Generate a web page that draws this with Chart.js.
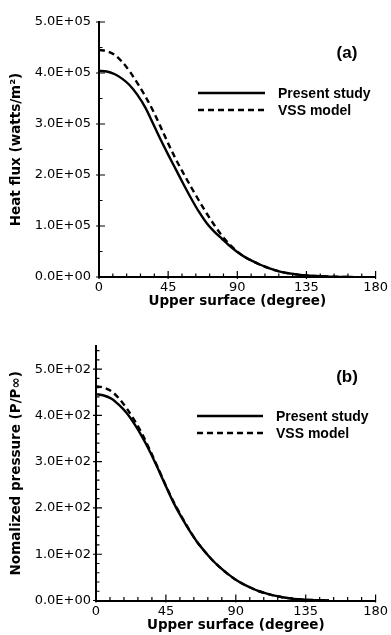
<!DOCTYPE html>
<html><head><meta charset="utf-8">
<script src="https://cdn.jsdelivr.net/npm/chart.js@4"></script>
<style>
html,body{margin:0;padding:0;background:#fff;}
#wa{position:absolute;left:0;top:0;width:391px;height:315px;}
#wb{position:absolute;left:0;top:315px;width:391px;height:320px;}
</style></head><body>
<div id="wa"><canvas id="ca"></canvas></div>
<div id="wb"><canvas id="cb"></canvas></div>
<script>
// ---- data ----
const angles = [0,5,10,15,20,25,30,35,40,45,50,55,60,65,70,75,80,85,90,95,100,105,110,115,120,125,130,135,140,150,165];
const heatPresent = [4.04e5,4.03e5,3.98e5,3.89e5,3.76e5,3.57e5,3.33e5,3.02e5,2.70e5,2.40e5,2.11e5,1.82e5,1.54e5,1.28e5,1.06e5,0.89e5,0.75e5,0.61e5,0.49e5,0.39e5,0.31e5,0.24e5,0.18e5,0.13e5,0.09e5,0.065e5,0.045e5,0.03e5,0.02e5,0.008e5,0];
const heatVSS = [4.45e5,4.43e5,4.36e5,4.22e5,4.03e5,3.80e5,3.55e5,3.27e5,2.95e5,2.62e5,2.31e5,2.03e5,1.76e5,1.50e5,1.25e5,1.02e5,0.81e5,0.64e5,0.50e5,0.39e5,0.31e5,0.24e5,0.18e5,0.13e5,0.09e5,0.065e5,0.045e5,0.03e5,0.02e5,0.008e5,0];
const anglesB = [0,5,10,15,20,25,30,35,40,45,50,55,60,65,70,75,80,85,90,95,100,105,110,115,120,125,130,135,140,150];
const pressPresent = [446,443,436,422,404,380,352,320,284,247,211,180,152,127,106,87,71,57,45,35,27,20,15,10.5,7,4.5,2.8,1.6,0.9,0.2];
const pressVSS = [463,460,452,436,414,388,358,323,286,248,213,182,153,127,106,87,71,57,45,35,27,20,15,10.5,7,4.5,2.8,1.6,0.9,0.2];
const xTickValues = [0,45,90,135,180];
const yTickValuesA = [0,1e5,2e5,3e5,4e5,5e5];
const yTickValuesB = [0,100,200,300,400,500];
const seriesLabels = ['Present study','VSS model'];
const panelTags = ['(a)','(b)'];
const xTitle = 'Upper surface (degree)';
const yTitleA = 'Heat flux (watts/m\u00B2)';
const yTitleB = 'Nomalized pressure (P/P\u221E)';

function fmtE(v){
  if (v === 0) return '0.0E+00';
  const e = Math.floor(Math.log10(Math.abs(v)) + 1e-9);
  const m = v / Math.pow(10, e);
  return m.toFixed(1) + 'E+' + String(e).padStart(2,'0');
}
const pts = (xs, ys) => xs.map((x,i)=>({x, y: ys[i]}));

const innerTicks = {
  id: 'innerTicks',
  afterDraw(chart) {
    const o = chart.options.plugins.innerTicks;
    const {ctx, chartArea: ca} = chart;
    const xs = chart.scales.x, ys = chart.scales.y;
    ctx.save();
    ctx.strokeStyle = '#000'; ctx.lineWidth = 1.2;
    ctx.beginPath();
    for (let v = xs.min; v <= xs.max + 1e-9; v += o.xMinor) {
      const px = xs.getPixelForValue(v);
      const major = xTickValues.some(t => Math.abs(t - v) < 1e-6);
      ctx.moveTo(px, ca.bottom + (major ? 2 : 0));
      ctx.lineTo(px, ca.bottom - (major ? 6 : 3.5));
    }
    for (let v = 0; v <= ys.max + 1e-6; v += o.yMinor) {
      const py = ys.getPixelForValue(v);
      const major = o.yMajor.some(t => Math.abs(t - v) < 1e-6);
      ctx.moveTo(ca.left - (major ? 3 : 0), py);
      ctx.lineTo(ca.left + (major ? 6 : 3.5), py);
    }
    ctx.stroke();
    ctx.restore();
  }
};
const panelLegend = {
  id: 'panelLegend',
  afterDraw(chart) {
    const o = chart.options.plugins.panelLegend;
    const ctx = chart.ctx;
    ctx.save();
    ctx.fillStyle = '#000'; ctx.strokeStyle = '#000';
    ctx.font = 'bold 17px "Liberation Sans"';
    ctx.textAlign = 'center'; ctx.textBaseline = 'middle';
    ctx.fillText(o.tag, o.tagX, o.tagY);
    chart.data.datasets.forEach((ds, i) => {
      const y = o.y + i * o.dy;
      ctx.beginPath();
      ctx.setLineDash(ds.borderDash || []);
      ctx.lineWidth = 2.4;
      ctx.moveTo(o.x1, y); ctx.lineTo(o.x2, y); ctx.stroke();
      ctx.setLineDash([]);
      ctx.font = 'bold 14px "Liberation Sans"';
      ctx.textAlign = 'left';
      ctx.fillText(ds.label, o.tx, y + 1);
    });
    ctx.restore();
  }
};

function makeChart(id, cfg) {
  const datasets = [
    {label: seriesLabels[0], data: pts(cfg.xs, cfg.ys1), borderColor:'#000', borderWidth:2.4, pointRadius:0, cubicInterpolationMode:'monotone', fill:false},
    {label: seriesLabels[1], data: pts(cfg.xs, cfg.ys2), borderColor:'#000', borderWidth:2.4, borderDash:[6,4], pointRadius:0, cubicInterpolationMode:'monotone', fill:false}
  ];
  return new Chart(document.getElementById(id), {
    type: 'line',
    data: {datasets},
    plugins: [innerTicks, panelLegend],
    options: {
      responsive: true, maintainAspectRatio: false, devicePixelRatio: 1, animation: false,
      layout: {padding: {left: 0, right: cfg.padRight, top: cfg.padTop, bottom: 0}},
      plugins: {
        legend: {display: false}, tooltip: {enabled: false},
        innerTicks: {xMinor: 9, yMinor: cfg.yMinor, yMajor: cfg.yTicks},
        panelLegend: cfg.legend
      },
      scales: {
        x: {
          type: 'linear', min: 0, max: 180,
          afterBuildTicks: s => { s.ticks = xTickValues.map(v => ({value: v})); },
          afterFit: s => { s.height = cfg.xAxisH; },
          grid: {display: true, drawOnChartArea: false, drawTicks: false},
          border: {display: true, color: '#000', width: 2},
          ticks: {color: '#000', padding: 3, maxRotation: 0, font: {family: 'DejaVu Sans', size: 13}},
          title: {display: true, text: xTitle, color: '#000', padding: {top: 0, bottom: cfg.xTitlePad}, font: {family: 'DejaVu Sans', size: 13.5, weight: 'bold'}}
        },
        y: {
          type: 'linear', min: 0, max: cfg.yMax,
          afterBuildTicks: s => { s.ticks = cfg.yTicks.map(v => ({value: v})); },
          afterFit: s => { s.width = cfg.yAxisW; },
          grid: {display: true, drawOnChartArea: false, drawTicks: false},
          border: {display: true, color: '#000', width: 2},
          ticks: {color: '#000', padding: cfg.yTickPad, callback: v => fmtE(v), font: {family: 'DejaVu Sans', size: 13}},
          title: {display: true, text: cfg.yTitle, color: '#000', padding: {top: 8.5, bottom: 0}, font: {family: 'DejaVu Sans', size: 13.5, weight: 'bold'}}
        }
      }
    }
  });
}

makeChart('ca', {
  xs: angles, ys1: heatPresent, ys2: heatVSS, yMax: 5e5, yTicks: yTickValuesA, yMinor: 0.5e5,
  yTitle: yTitleA, padRight: 14, padTop: 22, xAxisH: 38, yAxisW: 99, yTickPad: 8, xTitlePad: 5,
  legend: {tag: panelTags[0], tagX: 347, tagY: 53, x1: 198, x2: 265, y: 93, dy: 17, tx: 278}
});
makeChart('cb', {
  xs: anglesB, ys1: pressPresent, ys2: pressVSS, yMax: 550, yTicks: yTickValuesB, yMinor: 20,
  yTitle: yTitleB, padRight: 15, padTop: 31, xAxisH: 34.5, yAxisW: 96, yTickPad: 5, xTitlePad: 1,
  legend: {tag: panelTags[1], tagX: 347, tagY: 62, x1: 197, x2: 263, y: 101, dy: 17, tx: 276}
});
</script>
</body></html>
